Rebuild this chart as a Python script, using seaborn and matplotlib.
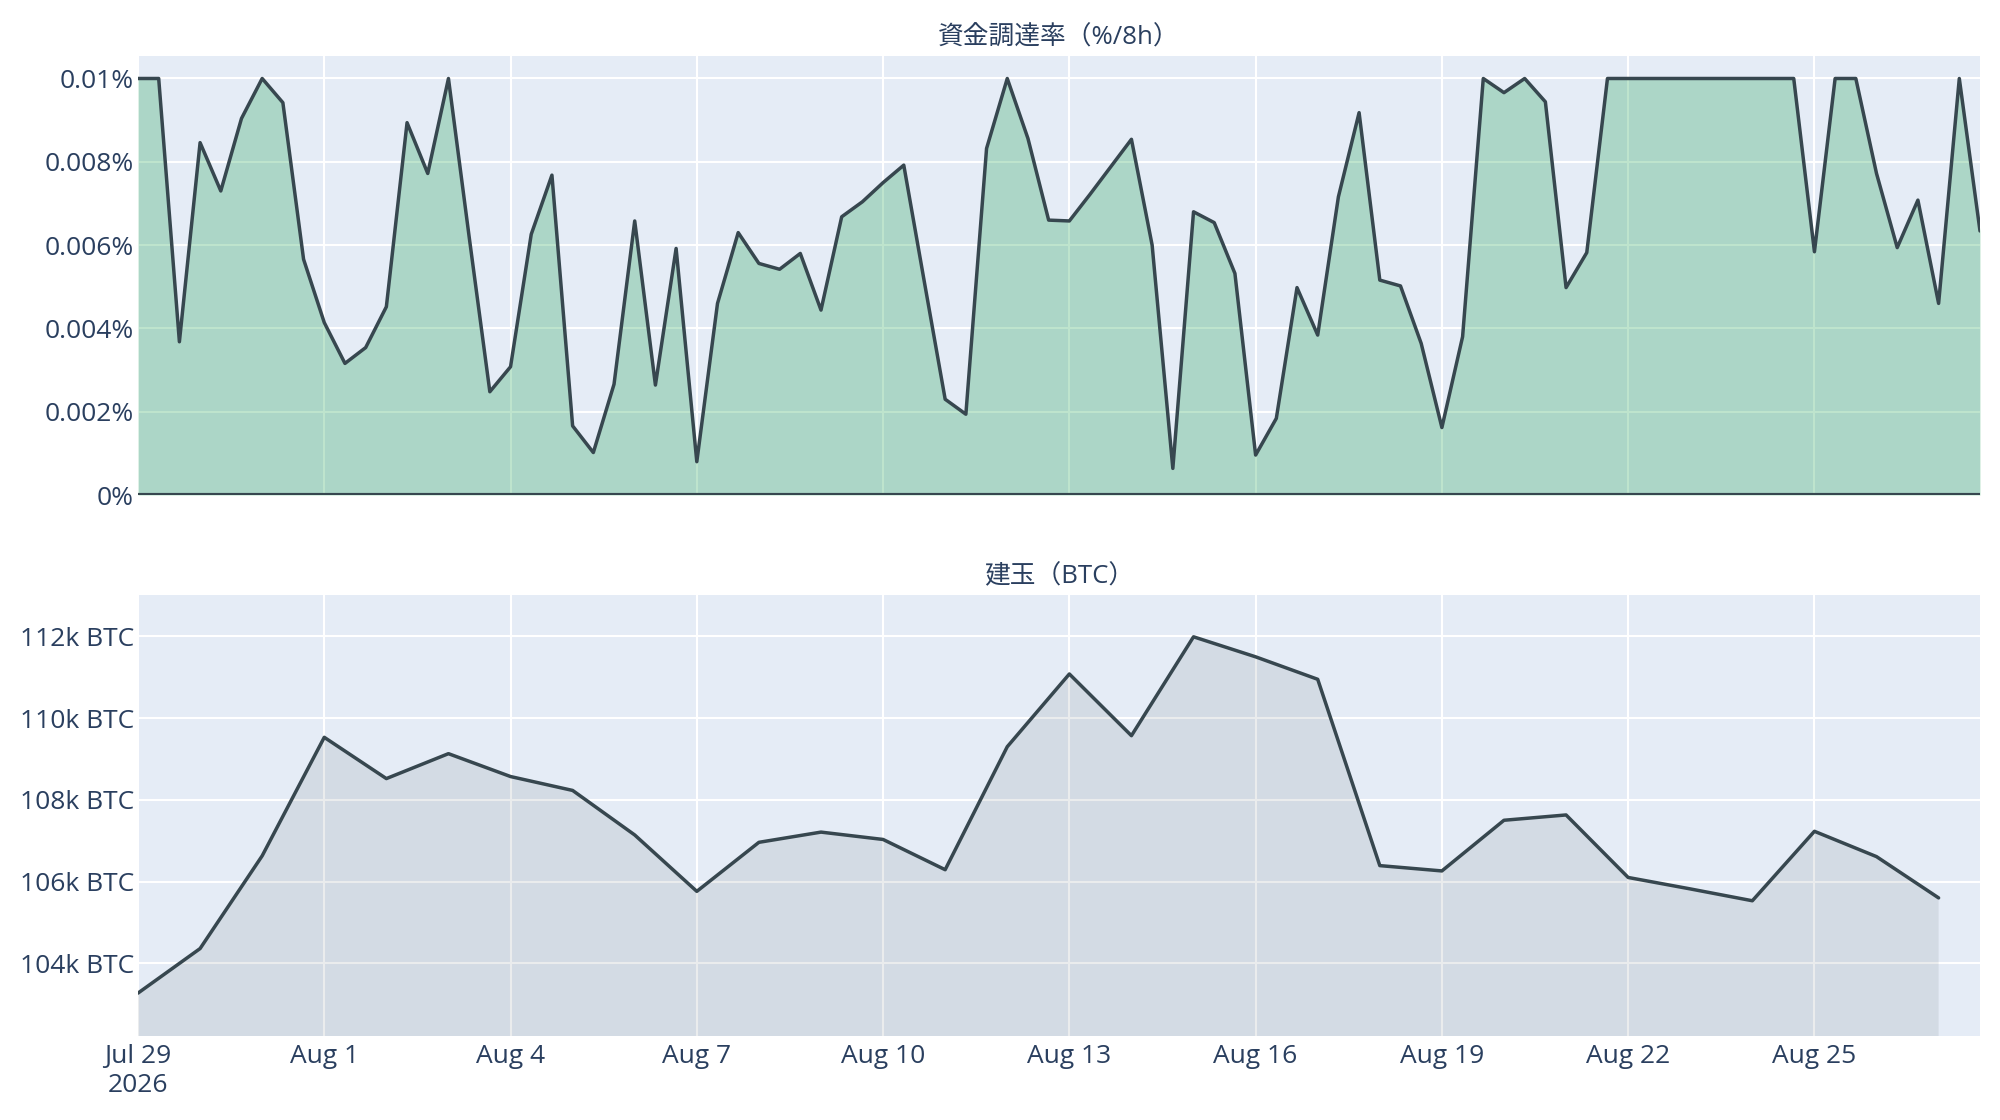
import pandas as pd
import seaborn as sns
import matplotlib.pyplot as plt
from matplotlib.ticker import FuncFormatter

# funding rate (%/8h), every 8 hours from Jul 29 2026 00:00
funding_rate = [
    0.0100, 0.0100, 0.00368, 0.00846, 0.00730, 0.00904, 0.0100, 0.00942, 0.00566, 0.00414,
    0.00316, 0.00354, 0.00452, 0.00894, 0.00772, 0.0100, 0.00620, 0.00248, 0.00308, 0.00626,
    0.00768, 0.00166, 0.00102, 0.00266, 0.00658, 0.00264, 0.00592, 0.00080, 0.00460, 0.00630,
    0.00556, 0.00542, 0.00580, 0.00444, 0.00668, 0.00704, 0.00750, 0.00792, 0.00510, 0.00230,
    0.00194, 0.00832, 0.0100, 0.00856, 0.00660, 0.00658, 0.00722, 0.00788, 0.00854, 0.00600,
    0.00064, 0.00680, 0.00654, 0.00532, 0.00096, 0.00184, 0.00498, 0.00384, 0.00716, 0.00918,
    0.00516, 0.00502, 0.00364, 0.00162, 0.00380, 0.0100, 0.00966, 0.0100, 0.00944, 0.00498,
    0.00582, 0.0100, 0.0100, 0.0100, 0.0100, 0.0100, 0.0100, 0.0100, 0.0100, 0.0100,
    0.0100, 0.00584, 0.0100, 0.0100, 0.00772, 0.00594, 0.00708, 0.00460, 0.0100, 0.00634,
]

# open interest (BTC), daily from Jul 29 2026
open_interest = [
    103270, 104360, 106630, 109530, 108520, 109130, 108570, 108230, 107140, 105760,
    106960, 107210, 107030, 106290, 109300, 111080, 109570, 111990, 111500, 110950,
    106390, 106260, 107500, 107630, 106100, 105820, 105530, 107230, 106610, 105600,
]

fr_df = pd.DataFrame({
    "time": pd.date_range("2026-07-29", periods=len(funding_rate), freq="8h"),
    "rate": funding_rate,
})
oi_df = pd.DataFrame({
    "time": pd.date_range("2026-07-29", periods=len(open_interest), freq="D"),
    "oi": open_interest,
})

tick_dates = pd.date_range("2026-07-29", "2026-08-25", freq="3D")
tick_labels = ["Jul 29\n2026"] + [d.strftime("%b ") + str(d.day) for d in tick_dates[1:]]

text_color = "#2a3f5f"
line_color = "#37474f"

sns.set_theme(style="darkgrid", rc={
    "axes.facecolor": "#E5ECF6",
    "grid.color": "white",
    "grid.linewidth": 1.5,
    "axes.edgecolor": "none",
    "xtick.color": text_color,
    "ytick.color": text_color,
    "text.color": text_color,
})
plt.rcParams["font.family"] = ["Open Sans", "Noto Sans CJK JP", "DejaVu Sans"]

fig = plt.figure(figsize=(20, 11.2), dpi=100)
ax1 = fig.add_axes([0.069, 0.558, 0.921, 0.392])
ax2 = fig.add_axes([0.069, 0.075, 0.921, 0.394])

x_start = pd.Timestamp("2026-07-29")
x_end = pd.Timestamp("2026-08-27 16:00")

# 資金調達率
sns.lineplot(data=fr_df, x="time", y="rate", ax=ax1, color=line_color, linewidth=2.5, zorder=3)
ax1.fill_between(fr_df["time"], fr_df["rate"], 0, color=(0.16, 0.65, 0.36), alpha=0.3,
                 linewidth=0, zorder=2)
ax1.axhline(0, color=line_color, linewidth=3, zorder=3)
ax1.set_ylim(0, 0.01054)
ax1.set_yticks([0, 0.002, 0.004, 0.006, 0.008, 0.01])
ax1.yaxis.set_major_formatter(FuncFormatter(lambda v, p: f"{v:g}%"))
ax1.set_title("資金調達率（%/8h）", fontsize=18.5, color=text_color, pad=8)

# 建玉
sns.lineplot(data=oi_df, x="time", y="oi", ax=ax2, color=line_color, linewidth=2.5, zorder=3)
ax2.fill_between(oi_df["time"], oi_df["oi"], 0, color=line_color, alpha=0.1,
                 linewidth=0, zorder=2)
ax2.set_ylim(102220, 113020)
ax2.set_yticks([104000, 106000, 108000, 110000, 112000])
ax2.yaxis.set_major_formatter(FuncFormatter(lambda v, p: f"{v / 1000:g}k BTC"))
ax2.set_title("建玉（BTC）", fontsize=18.5, color=text_color, pad=8)

for ax in (ax1, ax2):
    ax.set_axisbelow(True)
    ax.set_xlim(x_start, x_end)
    ax.set_xticks(tick_dates)
    ax.set_xlabel("")
    ax.set_ylabel("")
    ax.tick_params(axis="both", length=0, labelsize=19, pad=3)
    ax.grid(True, color="white", linewidth=1.5)
    for s in ax.spines.values():
        s.set_visible(False)

ax1.set_xticklabels([])
ax2.set_xticklabels(tick_labels)
ax2.tick_params(axis="x", pad=6)

fig.savefig("out.png", dpi=100, facecolor="white")
